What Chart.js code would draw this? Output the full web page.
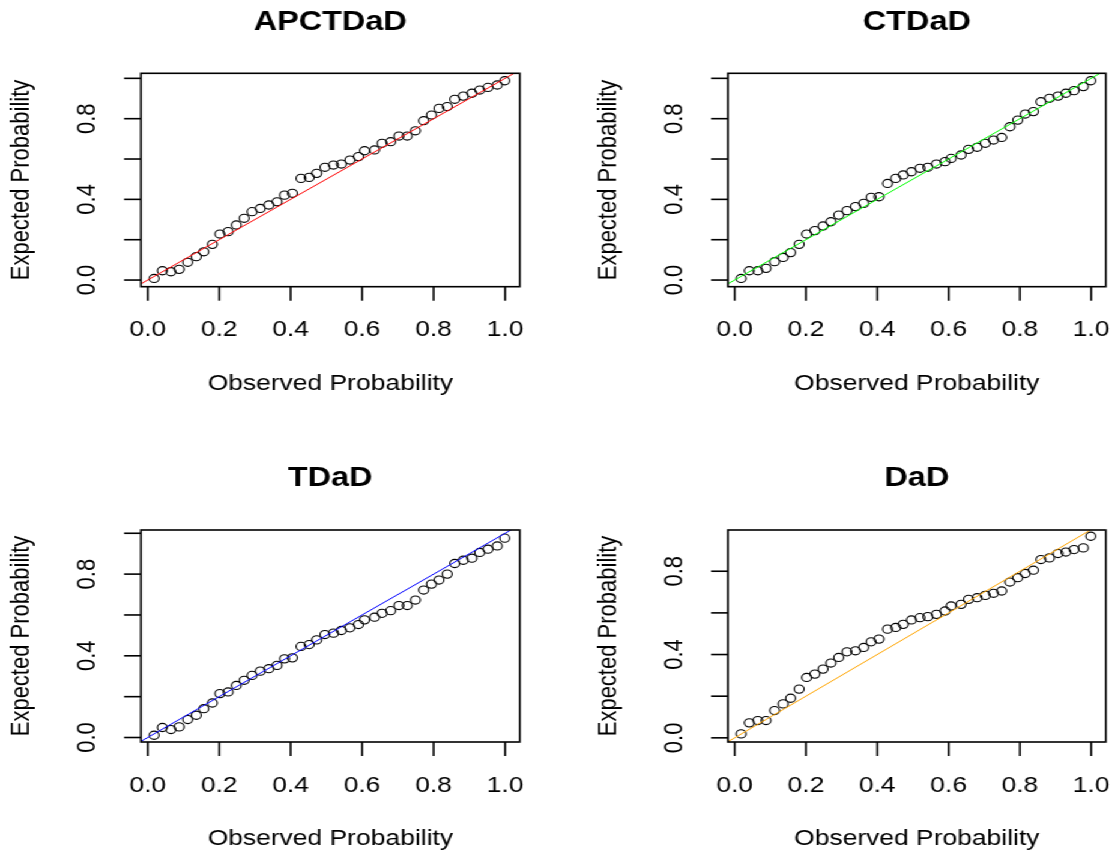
<!DOCTYPE html>
<html>
<head>
<meta charset="utf-8">
<script src="https://cdn.jsdelivr.net/npm/chart.js@4.4.1/dist/chart.umd.min.js"></script>
<style>
html,body{margin:0;padding:0;background:#fff;overflow:hidden;}
#wrap{position:absolute;left:0;top:0;width:926px;height:855px;transform:scale(1.2009,1);transform-origin:0 0;}
.pane{position:absolute;}
canvas{display:block;}
</style>
</head>
<body>
<div id="wrap">
  <div class="pane" style="left:0;top:0;width:463px;height:427px"><canvas id="c0" width="463" height="427"></canvas></div>
  <div class="pane" style="left:463px;top:0;width:463px;height:427px"><canvas id="c1" width="463" height="427"></canvas></div>
  <div class="pane" style="left:0;top:427px;width:463px;height:428px"><canvas id="c2" width="463" height="428"></canvas></div>
  <div class="pane" style="left:463px;top:427px;width:463px;height:428px"><canvas id="c3" width="463" height="428"></canvas></div>
</div>
<script>
// ---- data ----
const panelTitles = ['APCTDaD', 'CTDaD', 'TDaD', 'DaD'];
const lineColors = ['#FF0000', '#00FF00', '#0000FF', '#FFA500'];
const xAxisTitle = 'Observed Probability';
const yAxisTitle = 'Expected Probability';
const xTickValues = [0, 0.2, 0.4, 0.6, 0.8, 1.0];
const xTickLabels = ['0.0', '0.2', '0.4', '0.6', '0.8', '1.0'];
const yTickValues = [0, 0.2, 0.4, 0.6, 0.8, 1.0];
const yTickLabels = ['0.0', '', '0.4', '', '0.8', ''];

const observedProb = [0.018,0.041,0.065,0.088,0.112,0.136,0.157,0.181,0.202,0.225,0.248,0.270,0.292,0.315,0.339,0.362,0.383,0.405,0.429,0.452,0.473,0.496,0.520,0.542,0.566,0.590,0.607,0.635,0.656,0.680,0.703,0.726,0.749,0.772,0.794,0.815,0.838,0.859,0.883,0.907,0.929,0.952,0.978,0.999];

const expAPCTDaD = [0.008,0.046,0.041,0.053,0.088,0.116,0.140,0.177,0.228,0.240,0.273,0.306,0.339,0.355,0.372,0.388,0.421,0.430,0.504,0.509,0.529,0.559,0.570,0.575,0.595,0.612,0.641,0.645,0.678,0.686,0.714,0.714,0.740,0.790,0.818,0.851,0.860,0.896,0.912,0.926,0.942,0.955,0.967,0.988];
const expCTDaD = [0.008,0.046,0.046,0.058,0.091,0.112,0.136,0.177,0.228,0.245,0.268,0.289,0.322,0.344,0.364,0.380,0.410,0.413,0.479,0.504,0.521,0.537,0.554,0.559,0.575,0.587,0.603,0.620,0.648,0.658,0.678,0.694,0.707,0.760,0.793,0.823,0.835,0.884,0.901,0.912,0.926,0.939,0.959,0.988];
const expTDaD = [0.011,0.049,0.039,0.052,0.088,0.109,0.141,0.169,0.215,0.223,0.255,0.280,0.304,0.325,0.337,0.353,0.385,0.390,0.446,0.455,0.478,0.504,0.511,0.524,0.537,0.553,0.576,0.589,0.608,0.621,0.646,0.646,0.673,0.722,0.751,0.771,0.800,0.852,0.868,0.878,0.906,0.922,0.938,0.976];
const expDaD = [0.019,0.072,0.083,0.083,0.131,0.163,0.190,0.234,0.290,0.306,0.330,0.359,0.386,0.413,0.418,0.434,0.461,0.474,0.522,0.530,0.545,0.566,0.577,0.582,0.593,0.609,0.633,0.641,0.665,0.673,0.684,0.694,0.705,0.748,0.769,0.789,0.805,0.856,0.864,0.885,0.892,0.904,0.912,0.968];

const expectedSeries = [expAPCTDaD, expCTDaD, expTDaD, expDaD];
const refLine = [-0.2, 1.2]; // y = x reference line endpoints

// ---- layout (not data) ----
const xRanges = [[-0.019, 1.041], [-0.019, 1.041], [-0.019, 1.041], [-0.019, 1.041]];
const yRanges = [[-0.033, 1.025], [-0.033, 1.025], [-0.022, 1.016], [-0.020, 0.998]];
const paddings = [
  {left:117.3, top:73.3, right:30.2, bottom:140.3},
  {left:143.1, top:73.3, right:4.4, bottom:140.3},
  {left:117.3, top:103, right:30.2, bottom:113},
  {left:143.1, top:103, right:4.4, bottom:113}
];

const FONT = '"Liberation Sans", Arial, "DejaVu Sans", sans-serif';

const rAxes = {
  id: 'rAxes',
  afterDatasetsDraw(chart, args, opts) {
    const ctx = chart.ctx, a = chart.chartArea;
    const xs = chart.scales.x, ys = chart.scales.y;
    ctx.save();
    ctx.strokeStyle = '#000';
    ctx.fillStyle = '#000';
    ctx.lineWidth = 1.6;
    // box
    ctx.strokeRect(a.left, a.top, a.right - a.left, a.bottom - a.top);
    // x axis ticks + labels
    ctx.font = '22px ' + FONT;
    ctx.textAlign = 'center';
    ctx.textBaseline = 'alphabetic';
    xTickValues.forEach((v, i) => {
      if (v < xs.min || v > xs.max) return;
      const px = xs.getPixelForValue(v);
      ctx.beginPath(); ctx.moveTo(px, a.bottom); ctx.lineTo(px, a.bottom + 14); ctx.stroke();
      if (xTickLabels[i]) ctx.fillText(xTickLabels[i], px, a.bottom + 49.5);
    });
    // y axis ticks + rotated labels
    yTickValues.forEach((v, i) => {
      if (v < ys.min || v > ys.max) return;
      const py = ys.getPixelForValue(v);
      ctx.beginPath(); ctx.moveTo(a.left, py); ctx.lineTo(a.left - 14, py); ctx.stroke();
      if (yTickLabels[i]) {
        ctx.save();
        ctx.translate(a.left - 38, py);
        ctx.rotate(-Math.PI / 2);
        ctx.fillText(yTickLabels[i], 0, 0);
        ctx.restore();
      }
    });
    // axis titles
    const cx = (a.left + a.right) / 2, cy = (a.top + a.bottom) / 2;
    ctx.fillText(xAxisTitle, cx, a.bottom + 103.3);
    ctx.save();
    ctx.translate(a.left - 93.5, cy);
    ctx.rotate(-Math.PI / 2);
    ctx.fillText(yAxisTitle, 0, 0);
    ctx.restore();
    // main title
    ctx.font = 'bold 27px ' + FONT;
    ctx.fillText(opts.title, cx, a.top - 43.6);
    ctx.restore();
  }
};

for (let k = 0; k < 4; k++) {
  const pts = observedProb.map((x, i) => ({x: x, y: expectedSeries[k][i]}));
  new Chart(document.getElementById('c' + k), {
    type: 'scatter',
    data: {
      datasets: [
        {
          label: 'reference',
          data: refLine.map(v => ({x: v, y: v})),
          showLine: true,
          borderColor: lineColors[k],
          borderWidth: 1,
          pointRadius: 0,
          fill: false,
          clip: 0,
          order: 0
        },
        {
          label: panelTitles[k],
          data: pts,
          showLine: false,
          pointStyle: 'circle',
          pointRadius: 4.1,
          pointBorderWidth: 1.1,
          pointBorderColor: '#000',
          pointBackgroundColor: 'rgba(0,0,0,0)',
          clip: false,
          order: 1
        }
      ]
    },
    options: {
      responsive: false,
      animation: false,
      devicePixelRatio: 1,
      layout: {padding: paddings[k]},
      plugins: {
        legend: {display: false},
        tooltip: {enabled: false},
        title: {display: false},
        rAxes: {title: panelTitles[k]}
      },
      scales: {
        x: {type: 'linear', min: xRanges[k][0], max: xRanges[k][1], display: false},
        y: {type: 'linear', min: yRanges[k][0], max: yRanges[k][1], display: false}
      }
    },
    plugins: [rAxes]
  });
}
</script>
</body>
</html>
